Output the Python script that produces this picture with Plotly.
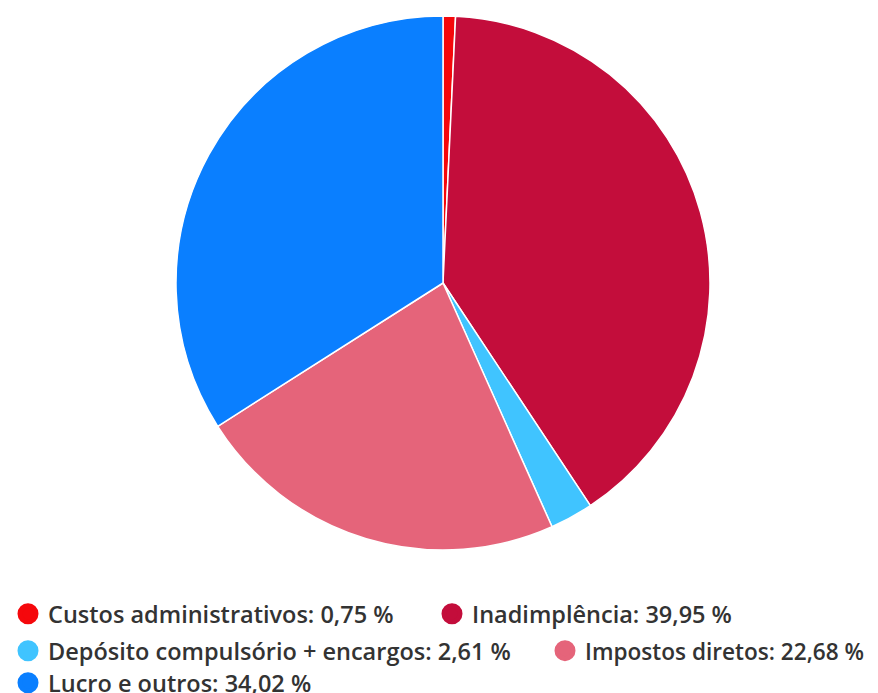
import plotly.graph_objects as go

labels = ["Custos administrativos", "Inadimplência", "Depósito compulsório + encargos",
          "Impostos diretos", "Lucro e outros"]
values = [0.75, 39.95, 2.61, 22.68, 34.02]
value_text = ["0,75", "39,95", "2,61", "22,68", "34,02"]
colors = ["#F5080C", "#C30D3B", "#40C4FF", "#E5647A", "#0A7FFF"]
legend_ids = ["legend", "legend2", "legend3", "legend4", "legend5"]
legend_x_px = [0, 424, 0, 537, 0]
legend_y_px = [606, 606, 643, 643, 675]
legend_font_px = [23.5, 23.5, 23.5, 22.6, 23.5]

W, H = 878, 693
fig = go.Figure()
fig.add_trace(go.Pie(
    labels=labels, values=values, sort=False, direction="clockwise", rotation=0,
    marker=dict(colors=colors, line=dict(color="white", width=1.5)),
    textinfo="none", hoverinfo="label+percent", showlegend=False,
    domain=dict(x=[168/W, 702/W], y=[1-542/H, 1-8/H]),
))
for lab, vt, c, lg in zip(labels, value_text, colors, legend_ids):
    fig.add_trace(go.Scatter(
        x=[None], y=[None], mode="markers", name=f"{lab}: {vt} %",
        marker=dict(color=c, size=16, symbol="circle", line=dict(color=c, width=5)),
        showlegend=True, legend=lg,
    ))

legends = {}
for lg, xp, yp, fs in zip(legend_ids, legend_x_px, legend_y_px, legend_font_px):
    legends[lg] = dict(orientation="h", x=xp/W, y=1-yp/H, xanchor="left",
                       yanchor="middle",
                       font=dict(family="Open Sans", size=fs, color="#333333", weight=600),
                       bgcolor="rgba(0,0,0,0)")

fig.update_layout(
    width=W, height=H, margin=dict(l=0, r=0, t=0, b=0, autoexpand=False),
    paper_bgcolor="white", plot_bgcolor="white",
    xaxis=dict(visible=False), yaxis=dict(visible=False),
    font=dict(family="Open Sans"),
    **legends,
)
fig.write_html("out.html")
